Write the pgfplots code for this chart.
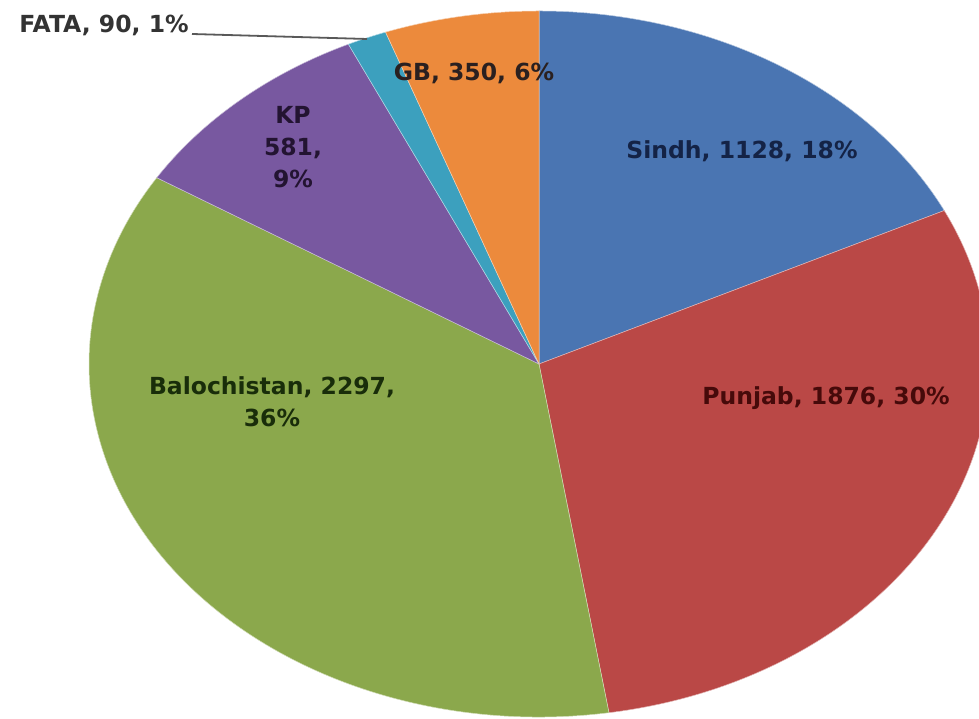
\documentclass[border=0pt]{standalone}
\usepackage{pgfplots}
\usepackage{pgfplotstable}
\pgfplotsset{compat=1.18}
\usepackage{fontspec}
\setmainfont{DejaVu Sans}
\definecolor{pie0}{HTML}{4A75B2}
\definecolor{pie1}{HTML}{BA4846}
\definecolor{pie2}{HTML}{8BA84C}
\definecolor{pie3}{HTML}{7858A0}
\definecolor{pie4}{HTML}{3CA0BE}
\definecolor{pie5}{HTML}{EC8A3C}
\definecolor{txt0}{HTML}{142346}
\definecolor{txt1}{HTML}{460A0A}
\definecolor{txt2}{HTML}{192D0A}
\definecolor{txt3}{HTML}{231432}
\definecolor{txt4}{HTML}{333333}
\definecolor{txt5}{HTML}{2A2020}
\pgfplotstableread{
name value
Sindh 1128
Punjab 1876
Balochistan 2297
KP 581
FATA 90
GB 350
}\piedata
\newcommand\lbl{\bfseries\fontsize{23.5}{32}\selectfont}
\begin{document}
\begin{tikzpicture}
\begin{axis}[x=1pt, y=1pt, xmin=0, xmax=979, ymin=0, ymax=719,
  hide axis, clip=true]
\gdef\total{0}
\pgfplotstableforeachcolumnelement{value}\of\piedata\as\v{%
  \pgfmathsetmacro\tmp{\total+\v}\global\let\total\tmp}
\gdef\cum{0}
\pgfplotstableforeachcolumnelement{value}\of\piedata\as\v{%
  \pgfmathsetmacro\sa{90-360*(\cum/\total)}%
  \pgfmathsetmacro\tmp{\cum+\v}\global\let\cum\tmp
  \pgfmathsetmacro\ea{90-360*(\cum/\total)}%
  \edef\temp{\noexpand\fill[pie\pgfplotstablerow, draw=white!60!pie\pgfplotstablerow, line width=0.5pt]
    (axis cs:539,355) -- ++(\sa:450pt and 353pt)
    arc[start angle=\sa, end angle=\ea, x radius=450pt, y radius=353pt] -- cycle;}%
  \temp
}
\node[text=txt0, font=\lbl] at (axis cs:742,568) {Sindh, 1128, 18\%};
\node[text=txt1, font=\lbl] at (axis cs:826,321) {Punjab, 1876, 30\%};
\node[text=txt2, font=\lbl, align=center] at (axis cs:272,317) {Balochistan, 2297,\\36\%};
\node[text=txt3, font=\lbl, align=center] at (axis cs:293,572) {KP\\581,\\9\%};
\node[text=txt5, font=\lbl] at (axis cs:474,646) {GB, 350, 6\%};
\node[text=txt4, font=\lbl] at (axis cs:104,694) {FATA, 90, 1\%};
\draw[black!65, line width=1.8pt] (axis cs:192,685) -- (axis cs:367,680);
\end{axis}
\pgfresetboundingbox
\useasboundingbox (current axis.south west) rectangle (current axis.north east);
\end{tikzpicture}
\end{document}
